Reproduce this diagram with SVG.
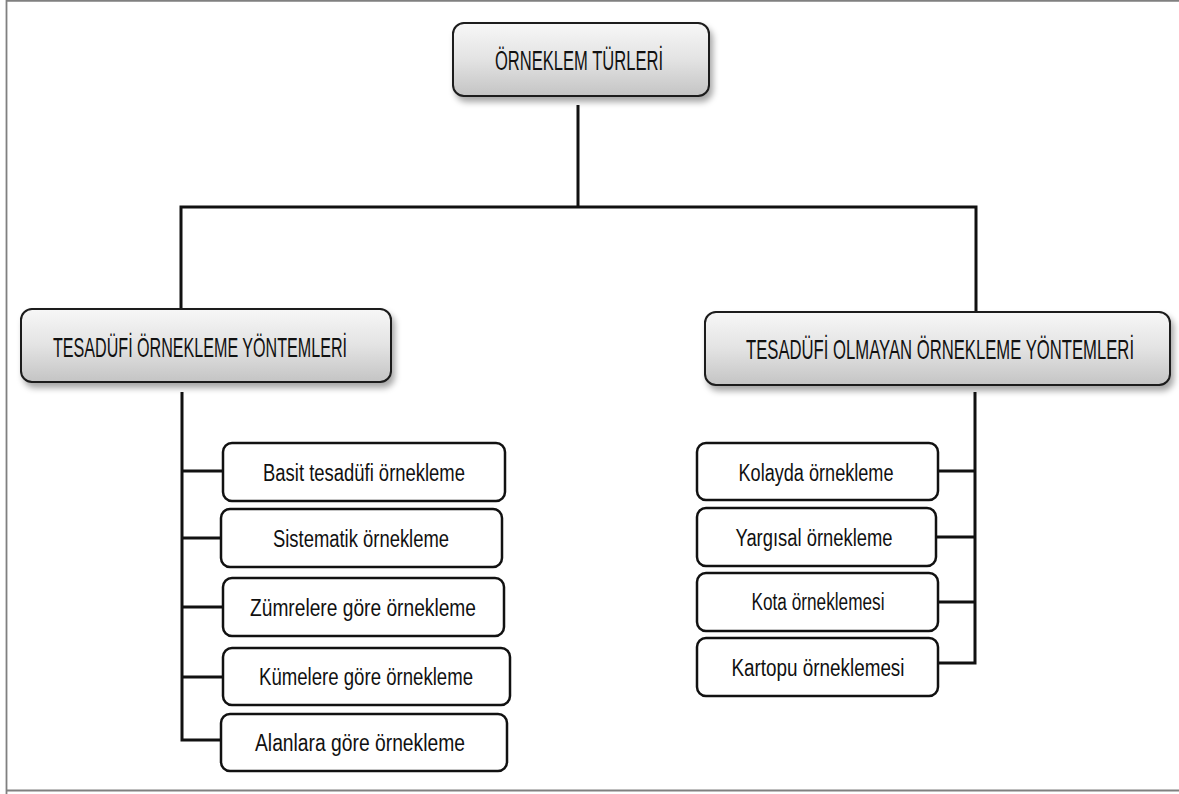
<svg xmlns="http://www.w3.org/2000/svg" width="1179" height="794" viewBox="0 0 1179 794">
<style>
.hdr{fill:url(#g);stroke:#1a1a1a;stroke-width:2;filter:url(#sh)}
.leaf{fill:#fff;stroke:#111;stroke-width:2.5}
.conn{fill:none;stroke:#111;stroke-width:3}
.t{font-family:"Liberation Sans",Arial,sans-serif;fill:#111;text-anchor:middle}
.th{font-size:27px}
.tl{font-size:23px}
</style>
<defs>
<linearGradient id="g" x1="0" y1="0" x2="0" y2="1">
<stop offset="0" stop-color="#f7f7f7"/>
<stop offset="0.5" stop-color="#e3e3e3"/>
<stop offset="1" stop-color="#c4c4c4"/>
</linearGradient>
<filter id="sh" x="-10%" y="-20%" width="125%" height="150%">
<feDropShadow dx="3" dy="5" stdDeviation="3" flood-color="#000" flood-opacity="0.35"/>
</filter>
</defs>
<rect width="1179" height="794" fill="#fff"/>
<path d="M6.5 794 V0.8 H1179 M6.5 790.5 H1179" fill="none" stroke="#808080" stroke-width="1.8"/>
<g id="connectors">
<path class="conn" d="M578 105 V207 M181 311 V207 H976 V313"/>
<path class="conn" d="M182 392 V740 H221 M182 471 H223 M182 538 H221 M182 607 H223 M182 677 H223"/>
<path class="conn" d="M975 392 V663 H938 M975 471 H938 M975 537 H936 M975 602 H938"/>
</g>
<g id="n-root"><rect class="hdr" x="453" y="23" width="256" height="73" rx="11"/><text class="t th" x="579" y="70" textLength="168" lengthAdjust="spacingAndGlyphs">ÖRNEKLEM TÜRLERİ</text></g>
<g id="n-tesadufi"><rect class="hdr" x="21" y="309" width="370" height="73" rx="11"/><text class="t th" transform="translate(200 357) scale(0.7 1)" x="0" y="0" textLength="420" lengthAdjust="spacingAndGlyphs">TESADÜFİ ÖRNEKLEME YÖNTEMLERİ</text></g>
<g id="n-olmayan"><rect class="hdr" x="705" y="312" width="465" height="73" rx="11"/><text class="t th" transform="translate(940 359) scale(0.65 1)" x="0" y="0" textLength="597" lengthAdjust="spacingAndGlyphs">TESADÜFİ OLMAYAN ÖRNEKLEME YÖNTEMLERİ</text></g>
<g id="n-basit"><rect class="leaf" x="223" y="443" width="282" height="58" rx="9"/><text class="t tl" x="364" y="481" textLength="202" lengthAdjust="spacingAndGlyphs">Basit tesadüfi örnekleme</text></g>
<g id="n-sistematik"><rect class="leaf" x="221" y="509" width="281" height="58" rx="9"/><text class="t tl" x="361" y="547" textLength="176" lengthAdjust="spacingAndGlyphs">Sistematik örnekleme</text></g>
<g id="n-zumre"><rect class="leaf" x="223" y="578" width="281" height="58" rx="9"/><text class="t tl" x="363" y="616" textLength="226" lengthAdjust="spacingAndGlyphs">Zümrelere göre örnekleme</text></g>
<g id="n-kume"><rect class="leaf" x="223" y="648" width="287" height="57" rx="9"/><text class="t tl" x="366" y="685" textLength="214" lengthAdjust="spacingAndGlyphs">Kümelere göre örnekleme</text></g>
<g id="n-alan"><rect class="leaf" x="221" y="714" width="286" height="57" rx="9"/><text class="t tl" x="360" y="751" textLength="210" lengthAdjust="spacingAndGlyphs">Alanlara göre örnekleme</text></g>
<g id="n-kolayda"><rect class="leaf" x="697" y="443" width="241" height="57" rx="9"/><text class="t tl" x="816" y="481" textLength="155" lengthAdjust="spacingAndGlyphs">Kolayda örnekleme</text></g>
<g id="n-yargisal"><rect class="leaf" x="697" y="508" width="239" height="58" rx="9"/><text class="t tl" x="814" y="546" textLength="157" lengthAdjust="spacingAndGlyphs">Yargısal örnekleme</text></g>
<g id="n-kota"><rect class="leaf" x="697" y="573" width="241" height="58" rx="9"/><text class="t tl" x="818" y="610" textLength="133" lengthAdjust="spacingAndGlyphs">Kota örneklemesi</text></g>
<g id="n-kartopu"><rect class="leaf" x="697" y="638" width="241" height="58" rx="9"/><text class="t tl" x="818" y="676" textLength="173" lengthAdjust="spacingAndGlyphs">Kartopu örneklemesi</text></g>
</svg>
